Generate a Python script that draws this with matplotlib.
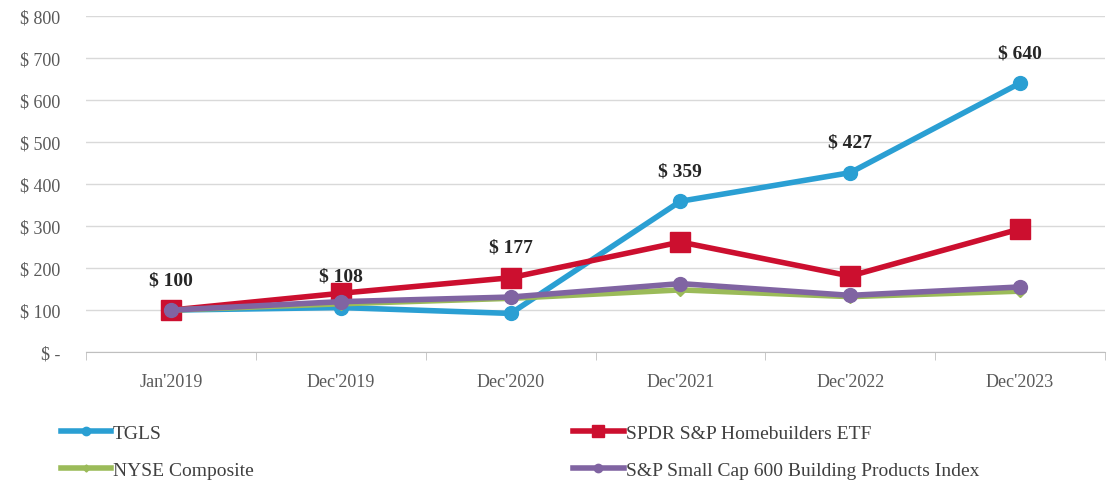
import numpy as np
import matplotlib.pyplot as plt
from matplotlib.ticker import FixedLocator

periods = ["Jan'2019", "Dec'2019", "Dec'2020", "Dec'2021", "Dec'2022", "Dec'2023"]
tgls = [100, 106, 92, 359, 427, 640]
spdr = [100, 140, 177, 262, 181, 293]
nyse = [100, 115, 128, 148, 132, 145]
sp600 = [100, 120, 131, 163, 135, 155]
point_labels = ["$ 100", "$ 108", "$ 177", "$ 359", "$ 427", "$ 640"]
label_values = [100, 108, 177, 359, 427, 640]
yticks = [0, 100, 200, 300, 400, 500, 600, 700, 800]

plt.rcParams['font.family'] = ['Liberation Serif', 'DejaVu Serif']

fig = plt.figure(figsize=(11.07, 4.85), dpi=100)
ax = fig.add_axes([0.078, 0.272, 0.92, 0.693])

x = np.arange(len(periods))
# drawn in series order, last one on top
h_tgls, = ax.plot(x, tgls, color='#2a9fd3', lw=4, marker='o', ms=10, label='TGLS', zorder=2)
h_spdr, = ax.plot(x, spdr, color='#cc0f2f', lw=4, marker='s', ms=14, label='SPDR S&P Homebuilders ETF', zorder=3)
h_nyse, = ax.plot(x, nyse, color='#9bbb59', lw=4, marker='D', ms=6, label='NYSE Composite', zorder=4)
h_sp, = ax.plot(x, sp600, color='#8064a2', lw=4, marker='o', ms=10, label='S&P Small Cap 600 Building Products Index', zorder=5)

for xi, val, txt in zip(x, label_values, point_labels):
    ax.annotate(txt, (xi, val), xytext=(0, 22), textcoords='offset points',
                ha='center', va='center', fontsize=14, fontweight='bold', color='#262626')

ax.set_xlim(-0.5, len(periods) - 0.5)
ax.set_ylim(0, 800)
ax.set_yticks(yticks)
ax.set_yticklabels(['$ -' if v == 0 else '$ %d' % v for v in yticks])
ax.set_xticks(x)
ax.set_xticklabels(periods)
ax.xaxis.set_minor_locator(FixedLocator(np.arange(-0.5, len(periods), 1.0)))
ax.tick_params(axis='x', which='major', length=0, pad=15, labelsize=13, labelcolor='#595959')
ax.tick_params(axis='x', which='minor', length=6, color='#bfbfbf')
ax.tick_params(axis='y', length=0, pad=19, labelsize=13, labelcolor='#595959')

ax.grid(axis='y', color='#d9d9d9', lw=1)
ax.set_axisbelow(True)
for s in ['left', 'right', 'top']:
    ax.spines[s].set_visible(False)
ax.spines['bottom'].set_color('#bfbfbf')

leg1 = fig.legend(handles=[h_tgls, h_nyse], loc='upper left', bbox_to_anchor=(0.039, 0.16),
                  frameon=False, fontsize=14, handlelength=2.6, handletextpad=0.1,
                  labelspacing=1.0, markerscale=0.6)
leg2 = fig.legend(handles=[h_spdr, h_sp], loc='upper left', bbox_to_anchor=(0.502, 0.16),
                  frameon=False, fontsize=14, handlelength=2.6, handletextpad=0.1,
                  labelspacing=1.0, markerscale=0.6)
for leg in (leg1, leg2):
    for t in leg.get_texts():
        t.set_color('#404040')

fig.savefig('out.png', dpi=100)
